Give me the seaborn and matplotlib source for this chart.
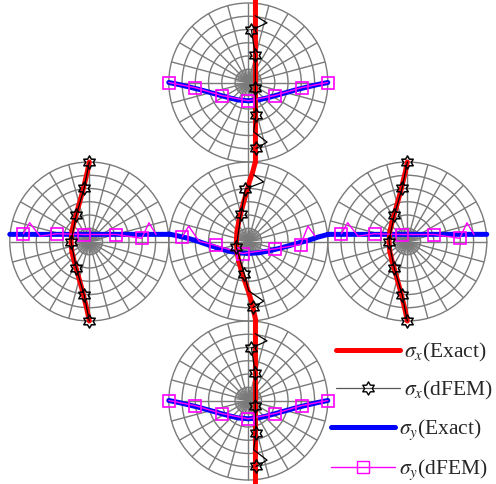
import numpy as np
import matplotlib
matplotlib.use("Agg")
import matplotlib.pyplot as plt
from matplotlib.lines import Line2D
from matplotlib.path import Path
from matplotlib.patches import Circle
import seaborn as sns

# ---------------------------------------------------------------------------
# Layout: five unit-radius circular regions (top, left, centre, right, bottom)
hole_x = [0.0, -2.0, 0.0, 2.0, 0.0]
hole_y = [2.0, 0.0, 0.0, 0.0, -2.0]
n_rings = 6
spoke_step_deg = 15
core_spoke_step_deg = 7.5    # refined fan inside the innermost ring

# Closed-form (exact) stress profiles, offset from the diameter (units of radius)
s_exact = [-1.0, -0.875, -0.75, -0.625, -0.5, -0.375, -0.25, -0.125, 0.0,
           0.125, 0.25, 0.375, 0.5, 0.625, 0.75, 0.875, 1.0]
exact_outer = [0.0, -0.025, -0.055, -0.085, -0.12, -0.155, -0.19, -0.22, -0.23,
               -0.22, -0.19, -0.155, -0.12, -0.085, -0.055, -0.025, 0.0]
exact_center = [0.095, 0.068, 0.038, 0.0, -0.044, -0.085, -0.12, -0.143, -0.15,
                -0.143, -0.12, -0.09, -0.057, -0.02, 0.013, 0.055, 0.088]
far_field = 0.09

# dFEM results: smooth sampling in the end regions
s_fem_reg = [1.0, 0.67, 0.33, 0.0, -0.33, -0.67, -1.0]
fem_reg = [0.0, -0.065, -0.165, -0.23, -0.165, -0.065, 0.0]

# dFEM results with oscillations near the region boundaries
s_fem_osc = [0.84, 0.75, 0.66, 0.34, -0.07, -0.41, -0.62, -0.75, -0.83]
fem_osc_outer = [0.088, 0.236, 0.04, 0.088, 0.088, 0.097, 0.067, 0.236, 0.097]
fem_osc_center = [0.067, 0.193, -0.038, -0.092, -0.151, -0.05, 0.004, 0.193, 0.059]
osc_marks = [2, 3, 4, 5, 8]

labels = [r"$\sigma_x$(Exact)", r"$\sigma_x$(dFEM)", r"$\sigma_y$(Exact)", r"$\sigma_y$(dFEM)"]

# ---------------------------------------------------------------------------
sns.set_style("white")
plt.rcParams["font.family"] = ["Liberation Serif", "DejaVu Serif"]
plt.rcParams["mathtext.fontset"] = "stix"

W, H, DPI = 496, 484, 100
unit = 79.5            # pixels per radius
cx_px, cy_px = 248.3, 241.5

fig = plt.figure(figsize=(W / DPI, H / DPI), dpi=DPI)
ax = fig.add_axes([0, 0, 1, 1])
ax.set_xlim(-cx_px / unit, (W - cx_px) / unit)
ax.set_ylim(-(H - cy_px) / unit, cy_px / unit)
ax.set_axis_off()

grid_col = "#7a7a7a"
grid_lw = 1.0
for hx, hy in zip(hole_x, hole_y):
    for k in range(1, n_rings + 1):
        ax.add_patch(Circle((hx, hy), k / n_rings, fill=False, ec=grid_col,
                            lw=grid_lw, zorder=1))
    for a in np.deg2rad(np.arange(0, 360, spoke_step_deg)):
        ax.plot([hx, hx + np.cos(a)], [hy, hy + np.sin(a)], color=grid_col,
                lw=grid_lw, zorder=1, solid_capstyle="butt")
    r_core = 1.0 / n_rings
    for a in np.deg2rad(np.arange(0, 360, core_spoke_step_deg)):
        ax.plot([hx, hx + r_core * np.cos(a)], [hy, hy + r_core * np.sin(a)],
                color=grid_col, lw=0.8, zorder=1, solid_capstyle="butt")

s_exact = np.asarray(s_exact)
exact_outer = np.asarray(exact_outer)
exact_center = np.asarray(exact_center)
s_fem_reg = np.asarray(s_fem_reg)
fem_reg = np.asarray(fem_reg)
s_fem_osc = np.asarray(s_fem_osc)
fem_osc_outer = np.asarray(fem_osc_outer)
fem_osc_center = np.asarray(fem_osc_center)

red, blue, mag = "#ff0000", "#0000ff", "#ff00ff"
lw_exact = 3.6
star6 = Path.unit_regular_star(6, 1 / np.sqrt(3))


def line(xs, ys, **kw):
    sns.lineplot(x=list(xs), y=list(ys), sort=False, estimator=None,
                 legend=False, ax=ax, **kw)


# sigma_y exact: horizontal through the middle row, bowed in the centre region
row_x = np.concatenate([[-3.0, -1.0], s_exact, [1.0, 3.0]])
row_y = np.concatenate([[far_field, far_field], exact_center, [far_field, far_field]])
line(row_x, row_y, color=blue, lw=lw_exact, zorder=2)
for hy in (2.0, -2.0):
    line(s_exact, hy + exact_outer, color=blue, lw=lw_exact, zorder=2)

# sigma_x exact: vertical through the middle column
col_y = np.concatenate([[3.2, 1.0], s_exact[::-1], [-1.0, -3.2]])
col_x = np.concatenate([[far_field, far_field], exact_center[::-1], [far_field, far_field]])
line(col_x, col_y, color=red, lw=lw_exact, zorder=3)
for hx in (-2.0, 2.0):
    line(hx + exact_outer, s_exact, color=red, lw=lw_exact, zorder=3)

# sigma_y dFEM
sq_kw = dict(color=mag, lw=1.0, marker="s", markersize=9, markerfacecolor="none",
             markeredgecolor=mag, markeredgewidth=1.2, zorder=4)
line(-2.0 + s_fem_osc, fem_osc_outer, markevery=osc_marks, **sq_kw)
line(2.0 + s_fem_osc, fem_osc_outer, markevery=osc_marks, **sq_kw)
line(s_fem_osc, fem_osc_center, markevery=osc_marks, **sq_kw)
for hy in (2.0, -2.0):
    line(s_fem_reg, hy + fem_reg, **sq_kw)

# sigma_x dFEM
st_kw = dict(color="black", lw=0.9, marker=star6, markersize=9.5,
             markerfacecolor="none", markeredgecolor="black",
             markeredgewidth=1.1, zorder=5)
for hy in (2.0, -2.0):
    line(fem_osc_outer, hy + s_fem_osc, markevery=osc_marks, **st_kw)
line(fem_osc_center, s_fem_osc, markevery=osc_marks, **st_kw)
for hx in (-2.0, 2.0):
    line(hx + fem_reg, s_fem_reg, **st_kw)

# legends
h_sx = [Line2D([], [], color=red, lw=lw_exact),
        Line2D([], [], color="#555555", lw=0.9, marker=star6, markersize=9.5,
               markerfacecolor="none", markeredgecolor="black", markeredgewidth=1.0)]
h_sy = [Line2D([], [], color=blue, lw=lw_exact),
        Line2D([], [], color=mag, lw=1.0, marker="s", markersize=9,
               markerfacecolor="none", markeredgecolor=mag, markeredgewidth=1.0)]
leg_kw = dict(frameon=False, fontsize=15.5, handlelength=2.95, handletextpad=0.2,
              borderpad=0, borderaxespad=0, labelspacing=0.7, numpoints=1,
              loc="upper left", bbox_transform=fig.transFigure)
leg1 = ax.legend(h_sx, labels[:2], bbox_to_anchor=(336 / W, 1 - 341 / H), **leg_kw)
ax.add_artist(leg1)
ax.legend(h_sy, labels[2:], bbox_to_anchor=(331 / W, 1 - 418 / H), **leg_kw)

fig.savefig("out.png", dpi=DPI)
